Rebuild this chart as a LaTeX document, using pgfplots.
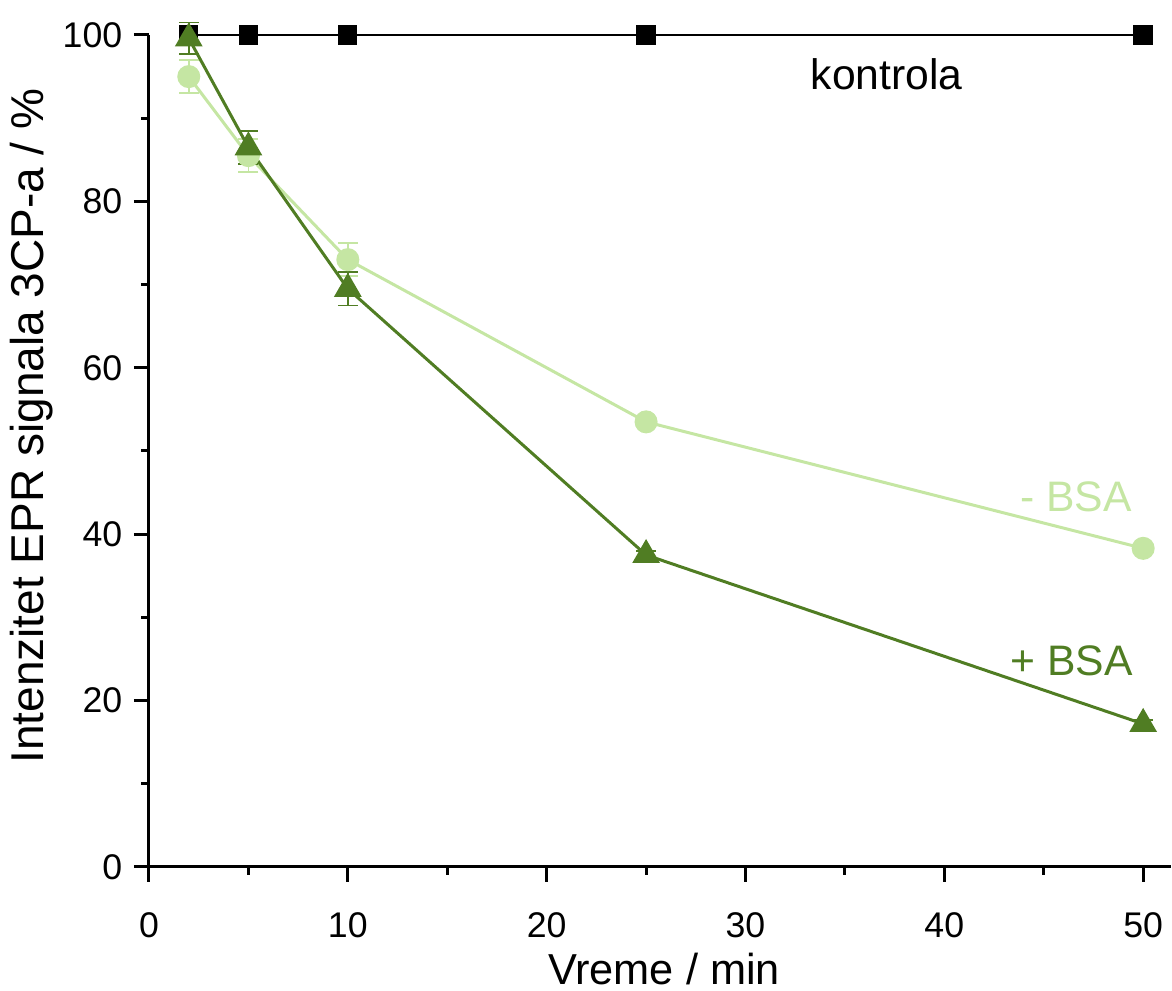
\documentclass[border=0pt]{standalone}
\usepackage{pgfplots}
\pgfplotsset{compat=1.18}
\usepackage{fontspec}
\setmainfont{Liberation Sans}
\definecolor{lightg}{RGB}{197,230,163}
\definecolor{darkg}{RGB}{80,125,35}
\begin{document}
\begin{tikzpicture}
\useasboundingbox (-44.7pt,-37.2pt) rectangle (306.9pt,260.1pt);
\begin{axis}[
 at={(0,0)}, anchor=south west,
 scale only axis, width=306.6pt, height=249.6pt,
 xmin=0, xmax=51.4, ymin=0, ymax=100,
 axis lines=left, axis line style={-, line width=0.9pt},
 xtick={0,10,...,50}, ytick={0,20,...,100},
 minor xtick={5,15,...,45}, minor ytick={10,30,...,90},
 tick align=outside, major tick length=4.5pt, minor tick length=2.3pt,
 every tick/.style={line width=0.9pt, black},
 ticklabel style={font=\fontsize{10.7}{13}\selectfont},
 xticklabel style={anchor=base, yshift=-16.6pt},
 /pgf/number format/assume math mode=true,
 xlabel={Vreme / min}, ylabel={Intenzitet EPR signala 3CP-a / \%},
 xlabel style={font=\fontsize{13}{16}\selectfont, at={(axis description cs:0.5,0)}, anchor=base, yshift=-35.4pt, xshift=1.2pt},
 ylabel style={font=\fontsize{13.8}{16}\selectfont, at={(ticklabel cs:0.53)}},
 ylabel shift=-4pt,
 clip=false,
]
\addplot[black, line width=0.6pt, mark=square*, mark size=2.6pt] coordinates {
 (2,100) (5,100) (10,100) (25,100) (50,100)};
\addplot[lightg, line width=0.9pt, mark=*, mark size=3pt,
 error bars/.cd, y dir=both, y explicit,
 error bar style={lightg, line width=0.5pt},
 error mark options={rotate=90, mark size=3pt, line width=0.5pt, lightg}]
 coordinates {
 (2,95) +- (0,2)
 (5,85.5) +- (0,2)
 (10,73) +- (0,2)
 (25,53.5) +- (0,0.5)
 (50,38.3) +- (0,0.5)};
\addplot[darkg, line width=0.9pt, mark=triangle*, mark size=3.9pt,
 error bars/.cd, y dir=both, y explicit,
 error bar style={darkg, line width=0.5pt},
 error mark options={rotate=90, mark size=3pt, line width=0.5pt, darkg}]
 coordinates {
 (2,99.6) +- (0,1.9)
 (5,86.5) +- (0,2)
 (10,69.5) +- (0,2)
 (25,37.5) +- (0,0.5)
 (50,17.2) +- (0,0.5)};
\node[font=\fontsize{12.8}{15}\selectfont, black] at (axis cs:37.1,95.3) {kontrola};
\node[font=\fontsize{12.8}{15}\selectfont, lightg, anchor=east, inner sep=0pt] at (axis cs:49.45,44.5) {- BSA};
\node[font=\fontsize{12.8}{15}\selectfont, darkg, anchor=east, inner sep=0pt] at (axis cs:49.5,24.8) {+ BSA};
\end{axis}
\end{tikzpicture}
\end{document}
